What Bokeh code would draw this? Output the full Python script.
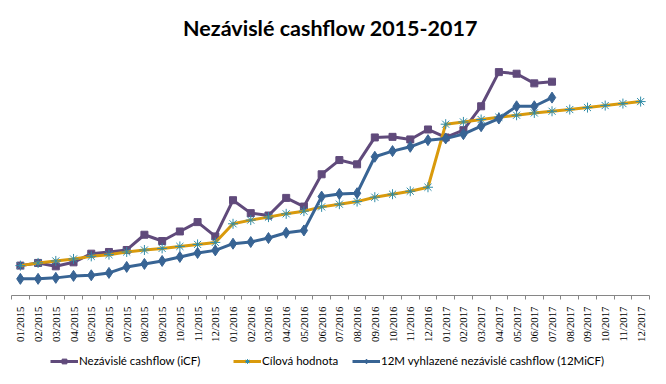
import math
from bokeh.plotting import figure
from bokeh.layouts import column
from bokeh.models import Range1d, FixedTicker, Legend, LegendItem, ColumnDataSource
from bokeh.embed import file_html
from bokeh.resources import INLINE

months = [f"{m:02d}/{y}" for y in (2015, 2016, 2017) for m in range(1, 13)]

icf = [30, 32.7, 29.3, 33.3, 42, 43.7, 45.7, 61, 54.7, 64.3, 73.7, 59.3,
       95.7, 82.7, 80.3, 98, 89.3, 121.7, 136, 131.7, 158.7, 159.3, 156.7, 166.7,
       158.7, 166, 190, 224.3, 222.7, 213, 214.7]
target = [30, 32.7, 34.7, 36.7, 39.3, 41, 43.7, 45.7, 47.3, 49.3, 51.3, 53.3,
          72, 75.7, 78.7, 82, 84.7, 89, 91.7, 94.3, 98.7, 101.7, 104.7, 108.7,
          172, 174.3, 176.7, 179, 181, 183.3, 185, 186.7, 188.7, 190.7, 192.7, 194.7]
smooth = [16.7, 16.7, 17.7, 19.7, 20.3, 22.7, 28.7, 31.7, 34.7, 38.7, 42.7, 45.3,
          52, 53.7, 57.7, 63, 65.3, 99.3, 102, 102.7, 139.3, 145, 149.3, 156,
          157.7, 162, 170, 177.7, 190, 190, 198.7]

names = ["Nezávislé cashflow (iCF)", "Cílová hodnota",
         "12M vyhlazené nezávislé cashflow (12MiCF)"]

FONT = "Lato"

purple = "#604A7B"
orange = "#D99A0C"
teal = "#2F8CA8"
blue = "#386494"

p = figure(width=650, height=344, output_backend="svg", toolbar_location=None,
           x_range=Range1d(0.5, 36.5), y_range=Range1d(0, 246),
           y_axis_location=None,
           min_border_left=11, min_border_right=1, min_border_top=50,
           min_border_bottom=48)
p.title.text = "Nezávislé cashflow 2015-2017"
p.title.align = "center"
p.title.text_font = FONT
p.title.text_font_style = "bold"
p.title.text_font_size = "21.5px"
p.title.text_color = "#000000"
p.title.standoff = 20
p.outline_line_color = None
p.xgrid.visible = False
p.ygrid.visible = False

xs = list(range(1, 37))

p.line(xs[:len(icf)], icf, line_color=purple, line_width=3)
p.scatter(xs[:len(icf)], icf, marker="square", size=7, fill_color=purple,
          line_color=purple)
p.line(xs[:len(target)], target, line_color=orange, line_width=3)
p.scatter(xs[:len(target)], target, marker="asterisk", size=10,
          line_color=teal, line_width=1)
p.line(xs[:len(smooth)], smooth, line_color=blue, line_width=3)
p.scatter(xs[:len(smooth)], smooth, marker="diamond", size=11,
          fill_color=blue, line_color=blue)

ax = p.xaxis[0]
ax.ticker = FixedTicker(ticks=xs, minor_ticks=[i + 0.5 for i in range(0, 37)])
ax.major_label_overrides = {x: m for x, m in zip(xs, months)}
ax.major_label_orientation = math.pi / 2
ax.major_label_text_font = "Liberation Sans Narrow"
ax.major_label_text_font_size = "10.8px"
ax.major_label_text_color = "#000000"
ax.major_label_standoff = 7
ax.major_tick_line_color = None
ax.major_tick_out = 0
ax.major_tick_in = 0
ax.minor_tick_line_color = "#868686"
ax.minor_tick_out = 4
ax.minor_tick_in = 0
ax.axis_line_color = "#868686"

# legend strip
q = figure(width=650, height=24, output_backend="svg", toolbar_location=None,
           x_range=Range1d(0, 1), y_range=Range1d(0, 1),
           x_axis_location=None, y_axis_location=None,
           min_border_left=0, min_border_right=0, min_border_top=0,
           min_border_bottom=0)
q.outline_line_color = None
q.xgrid.visible = False
q.ygrid.visible = False
hidden = ColumnDataSource(data=dict(x=[-5], y=[-5]))
r1 = [q.line("x", "y", source=hidden, line_color=purple, line_width=3),
      q.scatter("x", "y", source=hidden, marker="square", size=7,
                fill_color=purple, line_color=purple)]
r2 = [q.line("x", "y", source=hidden, line_color=orange, line_width=3),
      q.scatter("x", "y", source=hidden, marker="asterisk", size=10,
                line_color=teal, line_width=1)]
r3 = [q.line("x", "y", source=hidden, line_color=blue, line_width=3),
      q.scatter("x", "y", source=hidden, marker="diamond", size=11,
                fill_color=blue, line_color=blue)]

for name, rs, x0 in zip(names, (r1, r2, r3), (39, 222, 341)):
    lg = Legend(items=[LegendItem(label=name, renderers=rs)],
                orientation="horizontal", location=(x0, 1),
                glyph_width=28, glyph_height=12, label_height=12,
                label_standoff=1, spacing=0, padding=0, margin=0,
                label_text_font=FONT, label_text_font_size="11.5px",
                label_text_color="#000000",
                border_line_color=None, background_fill_alpha=0)
    q.add_layout(lg)

layout = column(p, q, spacing=0)
open("out.html", "w").write(file_html(layout, INLINE))
